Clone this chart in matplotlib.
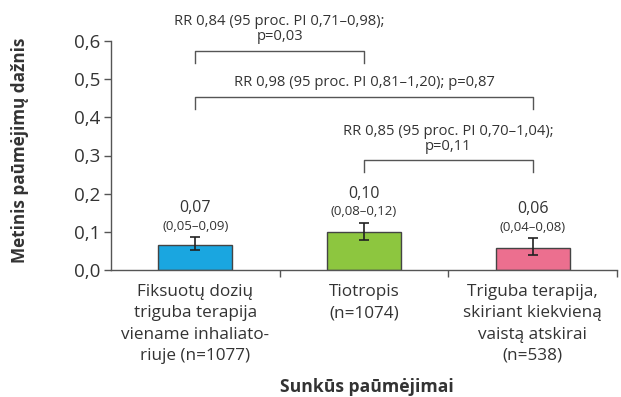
import matplotlib
matplotlib.use("Agg")
import matplotlib.pyplot as plt
from matplotlib.transforms import blended_transform_factory

categories = ["Fiksuotų dozių\ntriguba terapija\nviename inhaliato-\nriuje (n=1077)",
              "Tiotropis\n(n=1074)",
              "Triguba terapija,\nskiriant kiekvieną\nvaistą atskirai\n(n=538)"]
values = [0.066, 0.100, 0.058]
err_low = [0.053, 0.079, 0.039]
err_high = [0.086, 0.123, 0.083]
value_labels = ["0,07", "0,10", "0,06"]
ci_labels = ["(0,05–0,09)", "(0,08–0,12)", "(0,04–0,08)"]
colors = ["#1aa6e0", "#8dc63f", "#ec6f8f"]
yticks = [0.0, 0.1, 0.2, 0.3, 0.4, 0.5, 0.6]
ytick_labels = ["0,0", "0,1", "0,2", "0,3", "0,4", "0,5", "0,6"]

brackets = [  # (i, j, y, text, text y)
    (0, 1, 0.573, "RR 0,84 (95 proc. PI 0,71–0,98);\np=0,03", 0.632),
    (0, 2, 0.453, "RR 0,98 (95 proc. PI 0,81–1,20); p=0,87", 0.49),
    (1, 2, 0.288, "RR 0,85 (95 proc. PI 0,70–1,04);\np=0,11", 0.343),
]
bracket_text_x = [0.5, 1.0, 1.5]

plt.rcParams['font.family'] = ['Open Sans', 'DejaVu Sans']
W, H = 621, 397
fig = plt.figure(figsize=(W / 100, H / 100), dpi=100)
ax = fig.add_axes([111 / W, 1 - 270 / H, 506 / W, 229 / H])

x = list(range(len(values)))
ax.bar(x, values, width=0.44, color=colors, edgecolor="#444444", linewidth=1.0, zorder=2)
yerr = [[v - l for v, l in zip(values, err_low)], [h - v for v, h in zip(values, err_high)]]
ax.errorbar(x, values, yerr=yerr, fmt="none", ecolor="#222222", elinewidth=1.2,
            capsize=3.5, capthick=1.2, zorder=3)

ax.set_xlim(-0.5, 2.5)
ax.set_ylim(0, 0.6)
ax.set_yticks(yticks)
ax.set_yticklabels(ytick_labels, fontsize=13.5, color="#333333")
ax.set_xticks([0.5, 1.5, 2.5])
ax.set_xticklabels([])
ax.tick_params(axis="y", direction="out", length=5, width=1, color="#555555", pad=3)
ax.tick_params(axis="x", direction="out", length=5, width=1, color="#555555")
for s in ["top", "right"]:
    ax.spines[s].set_visible(False)
for s in ["left", "bottom"]:
    ax.spines[s].set_color("#555555")
    ax.spines[s].set_linewidth(1.0)

trans = blended_transform_factory(ax.transData, ax.transAxes)
for i, lab in enumerate(categories):
    ax.text(i, -0.06, lab, transform=trans, ha="center", va="top", fontsize=12.3,
            color="#333333", linespacing=1.45)

for i in x:
    top = err_high[i]
    ax.text(i, top + 0.055, value_labels[i], ha="center", va="bottom", fontsize=11.5, color="#333333")
    ax.text(i, top + 0.012, ci_labels[i], ha="center", va="bottom", fontsize=9.5, color="#333333")

for (i, j, y, txt, ty), tx in zip(brackets, bracket_text_x):
    ax.plot([i, i, j, j], [y - 0.03, y, y, y - 0.03], color="#555555", lw=1.0, clip_on=False)
    ax.text(tx, ty, txt, ha="center", va="center", fontsize=10.6, color="#333333",
            linespacing=1.05, clip_on=False)

fig.text(20 / W, 1 - 150 / H, "Metinis paūmėjimų dažnis", rotation=90, ha="center", va="center",
         fontsize=12.3, fontweight="bold", color="#333333")
fig.text(367 / W, 1 - 387 / H, "Sunkūs paūmėjimai", ha="center", va="center",
         fontsize=12.6, fontweight="bold", color="#333333")

fig.savefig("out.png", dpi=100)
